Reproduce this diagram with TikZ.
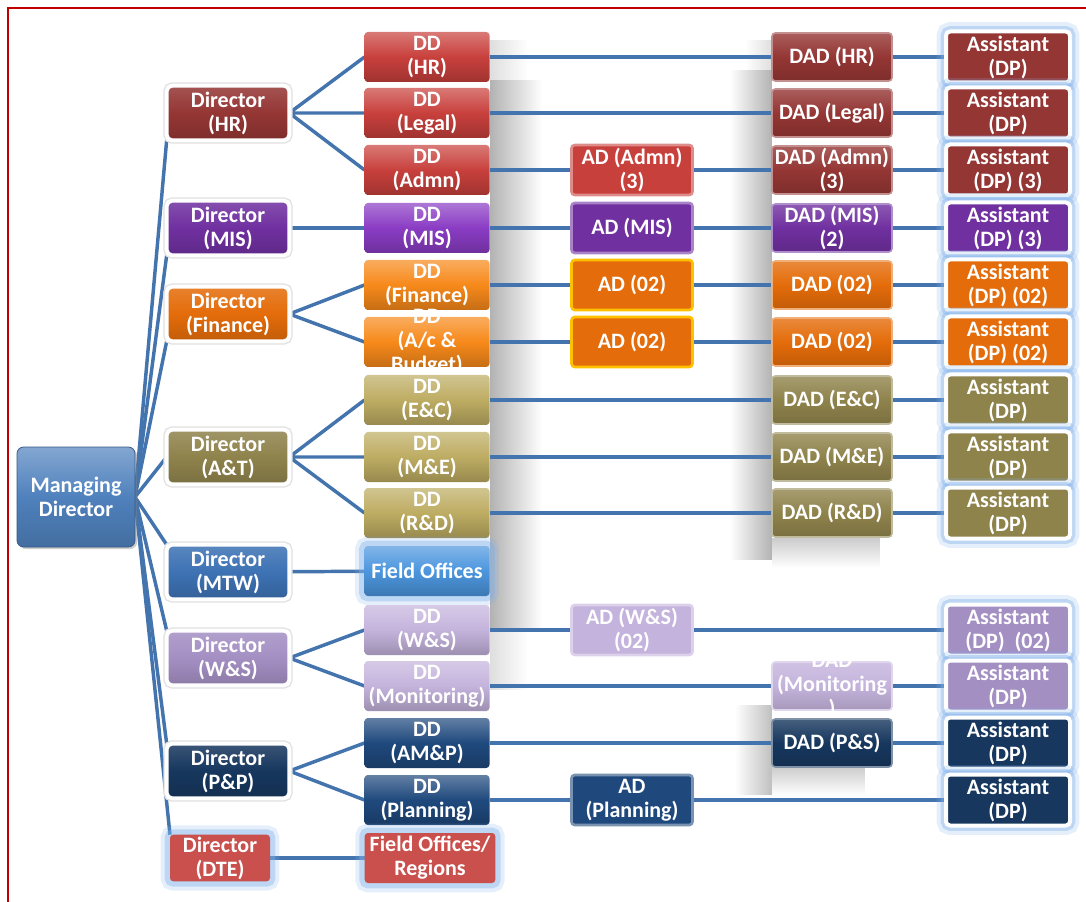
\documentclass[tikz,border=0pt]{standalone}
\usepackage{fontspec}
\newfontfamily\orgfamily{Carlito}
\usetikzlibrary{shadows,fadings,backgrounds}
\newcommand{\orgfont}{\orgfamily\bfseries\fontsize{16.5}{18}\selectfont}
\definecolor{framered}{HTML}{C00000}
\definecolor{linkblue}{HTML}{4474AE}
\definecolor{glowblue}{HTML}{7FB0EA}
\definecolor{mdblue}{HTML}{4F81BD}
\definecolor{hrdark}{HTML}{943634}
\definecolor{hrbright}{HTML}{C8403C}
\definecolor{misdark}{HTML}{7030A0}
\definecolor{misbright}{HTML}{8A3CC4}
\definecolor{findark}{HTML}{E46C0A}
\definecolor{finbright}{HTML}{F7891A}
\definecolor{finyel}{HTML}{FFC000}
\definecolor{atdark}{HTML}{8F834C}
\definecolor{atgold}{HTML}{BDAC62}
\definecolor{mtwblue}{HTML}{3D72B4}
\definecolor{fobright}{HTML}{4C96DE}
\definecolor{wsdark}{HTML}{A48FC3}
\definecolor{wslight}{HTML}{C4B3DC}
\definecolor{ppnavy}{HTML}{17375E}
\definecolor{ppmid}{HTML}{1F497D}
\definecolor{dtered}{HTML}{C9504C}

\begin{document}
\begin{tikzpicture}[x=0.75pt,y=-0.75pt,
  box/.style={rounded corners=2.5pt,text=white,font=\orgfont,align=center,inner sep=0pt,outer sep=0pt},
  boss/.style={box,rounded corners=5pt,minimum width=88.5pt,minimum height=75pt,
    top color=mdblue!70!white,bottom color=mdblue!85!black,middle color=mdblue,
    draw=mdblue!70!black,line width=0.6pt,drop shadow={opacity=0.4,shadow xshift=1.5pt,shadow yshift=-1.5pt}},
  director/.style={box,rounded corners=4pt,minimum width=92pt,minimum height=41pt,draw=white,line width=3pt,
    top color=#1!85!white,bottom color=#1!85!black,middle color=#1,
    drop shadow={opacity=0.22,shadow xshift=0.6pt,shadow yshift=-1.6pt},
    preaction={draw=black!12,line width=5pt}},
  dd/.style={box,minimum width=93.75pt,minimum height=37.5pt,top color=#1!70!white,bottom color=#1!80!black,middle color=#1},
  ad/.style={box,minimum width=90.75pt,minimum height=37.5pt,fill=#1,draw=#1!60!white,line width=2pt},
  dad/.style={box,minimum width=90pt,minimum height=36pt,top color=#1!80!white,bottom color=#1!85!black,
    middle color=#1,draw=#1!55!white,line width=1.2pt},
  glow/.style={preaction={draw=glowblue,line width=14pt,opacity=0.2},preaction={draw=glowblue,line width=8pt,opacity=0.4}},
  asst/.style={box,rounded corners=3pt,minimum width=93pt,minimum height=38.25pt,draw=white,line width=3pt,fill=#1,glow},
  over/.style={text=white,font=\orgfont,align=center,inner sep=0pt},
  haze/.style={black,opacity=#1},
  link/.style={draw=linkblue,line width=2.6pt}]
\useasboundingbox (0,0) rectangle (1086,902);
% managing director
\node[boss] (md) at (76,497) {Managing\\Director};
% directors
\node[director=hrdark] (dhr) at (228,113) {Director\\(HR)};
\node[director=misdark] (dmis) at (228,228) {Director\\(MIS)};
\node[director=findark] (dfin) at (228,314) {Director\\(Finance)};
\node[director=atdark] (dat) at (228,457) {Director\\(A\&T)};
\node[director=mtwblue] (dmtw) at (228,572) {Director\\(MTW)};
\node[director=wsdark] (dws) at (228,658) {Director\\(W\&S)};
\node[director=ppnavy] (dpp) at (228,771) {Director\\(P\&P)};
\node[box,minimum width=75pt,minimum height=35pt,fill=dtered,glow] (ddte) at (220,858) {Director\\(DTE)};
% deputy directors
\node[dd=hrbright] (ddhr) at (427,57) {DD\\(HR)};
\node[dd=hrbright] (ddlegal) at (427,113) {DD\\(Legal)};
\node[dd=hrbright] (ddadmn) at (427,170) {DD\\(Admn)};
\node[dd=misbright] (ddmis) at (427,228) {DD\\(MIS)};
\node[dd=finbright] (ddfin) at (427,285) {DD\\(Finance)};
\node[dd=finbright,label={[over]center:{DD\\(A/c \&\\Budget)}}] (ddacc) at (427,342) {};
\node[dd=atgold] (ddec) at (427,400) {DD\\(E\&C)};
\node[dd=atgold] (ddme) at (427,457) {DD\\(M\&E)};
\node[dd=atgold] (ddrd) at (427,513) {DD\\(R\&D)};
\node[dd=fobright,glow] (fo) at (427,571) {Field Offices};
\node[dd=wslight] (ddws) at (427,630) {DD\\(W\&S)};
\node[dd=wslight] (ddmon) at (427,686) {DD\\(Monitoring)};
\node[dd=ppmid] (ddamp) at (427,743) {DD\\(AM\&P)};
\node[dd=ppmid] (ddplan) at (427,800) {DD\\(Planning)};
\node[box,minimum width=98pt,minimum height=37.5pt,fill=dtered,glow] (fore) at (430,858) {Field Offices/\\Regions};
% assistant directors
\node[ad=hrbright] (adadmn) at (632,170) {AD (Admn)\\(3)};
\node[ad=misdark] (admis) at (632,228) {AD (MIS)};
\node[ad=findark,draw=finyel] (adfin) at (632,285) {AD (02)};
\node[ad=findark,draw=finyel] (adacc) at (632,342) {AD (02)};
\node[ad=wslight] (adws) at (632,630) {AD (W\&S)\\(02)};
\node[ad=ppmid] (adplan) at (632,800) {AD\\(Planning)};
% deputy assistant directors
\node[dad=hrdark] (dadhr) at (832,57) {DAD (HR)};
\node[dad=hrdark] (dadlegal) at (832,113) {DAD (Legal)};
\node[dad=hrdark] (dadadmn) at (832,170) {DAD (Admn)\\(3)};
\node[dad=misdark] (dadmis) at (832,228) {DAD (MIS)\\(2)};
\node[dad=findark] (dadfin) at (832,285) {DAD (02)};
\node[dad=findark] (dadacc) at (832,342) {DAD (02)};
\node[dad=atdark] (dadec) at (832,400) {DAD (E\&C)};
\node[dad=atdark] (dadme) at (832,457) {DAD (M\&E)};
\node[dad=atdark] (dadrd) at (832,513) {DAD (R\&D)};
\node[dad=wslight,label={[over]center:{DAD\\(Monitoring\\)}}] (dadmon) at (832,686) {};
\node[dad=ppnavy] (dadps) at (832,743) {DAD (P\&S)};
% assistants
\foreach \y/\c/\t [count=\i] in {57/hrdark/{Assistant\\(DP)},113/hrdark/{Assistant\\(DP)},
    170/hrdark/{Assistant\\(DP) (3)},228/misdark/{Assistant\\(DP) (3)},285/findark/{Assistant\\(DP) (02)},
    342/findark/{Assistant\\(DP) (02)},400/atdark/{Assistant\\(DP)},457/atdark/{Assistant\\(DP)},
    513/atdark/{Assistant\\(DP)},630/wsdark/{Assistant\\(DP)~~(02)},686/wsdark/{Assistant\\(DP)},
    743/ppnavy/{Assistant\\(DP)},800/ppnavy/{Assistant\\(DP)}}
  \node[asst=\c] (as\i) at (1008,\y) {\t};
\begin{scope}[on background layer]
% soft shadows
\fill[haze=0.3,path fading=east] (490,80) rectangle (542,630);
\fill[haze=0.13,path fading=east] (490,40) rectangle (528,80);
\fill[haze=0.13,path fading=east] (490,630) rectangle (528,690);
\fill[haze=0.3,path fading=west] (730,70) rectangle (772,560);
\fill[haze=0.13,path fading=west] (745,40) rectangle (772,70);
\fill[haze=0.2,path fading=south] (772,538) rectangle (880,568);
\fill[haze=0.25,path fading=west] (735,705) rectangle (772,795);
\fill[haze=0.2,path fading=south] (772,767) rectangle (865,795);
% frame
\draw[framered,line width=1.5pt] (8,902) -- (8,8) -- (1086,8);
% managing director to directors
\draw[link] (md.east) -- (dhr.south west);
\draw[link] (md.east) -- (dmis.south west);
\draw[link] (md.east) -- (dfin.south west);
\draw[link] (md.east) -- (dat.west);
\draw[link] (md.east) -- (dmtw.north west);
\draw[link] (md.east) -- (dws.north west);
\draw[link] (md.east) -- (dpp.north west);
\draw[link] (md.east) -- (ddte.north west);
% directors to deputy directors
\draw[link] (dhr.east) -- (ddhr.west) (dhr.east) -- (ddlegal.west) (dhr.east) -- (ddadmn.west);
\draw[link] (dmis) -- (ddmis);
\draw[link] (dfin.east) -- (ddfin.west) (dfin.east) -- (ddacc.west);
\draw[link] (dat.east) -- (ddec.west) (dat.east) -- (ddme.west) (dat.east) -- (ddrd.west);
\draw[link] (dmtw) -- (fo);
\draw[link] (dws.east) -- (ddws.west) (dws.east) -- (ddmon.west);
\draw[link] (dpp.east) -- (ddamp.west) (dpp.east) -- (ddplan.west);
\draw[link] (ddte) -- (fore);
% rows
\draw[link] (ddhr) -- (dadhr) (dadhr) -- (as1);
\draw[link] (ddlegal) -- (dadlegal) (dadlegal) -- (as2);
\draw[link] (ddadmn) -- (adadmn) (adadmn) -- (dadadmn) (dadadmn) -- (as3);
\draw[link] (ddmis) -- (admis) (admis) -- (dadmis) (dadmis) -- (as4);
\draw[link] (ddfin) -- (adfin) (adfin) -- (dadfin) (dadfin) -- (as5);
\draw[link] (ddacc) -- (adacc) (adacc) -- (dadacc) (dadacc) -- (as6);
\draw[link] (ddec) -- (dadec) (dadec) -- (as7);
\draw[link] (ddme) -- (dadme) (dadme) -- (as8);
\draw[link] (ddrd) -- (dadrd) (dadrd) -- (as9);
\draw[link] (ddws) -- (adws) (adws) -- (as10);
\draw[link] (ddmon) -- (dadmon) (dadmon) -- (as11);
\draw[link] (ddamp) -- (dadps) (dadps) -- (as12);
\draw[link] (ddplan) -- (adplan) (adplan) -- (as13);
\end{scope}
\end{tikzpicture}
\end{document}
